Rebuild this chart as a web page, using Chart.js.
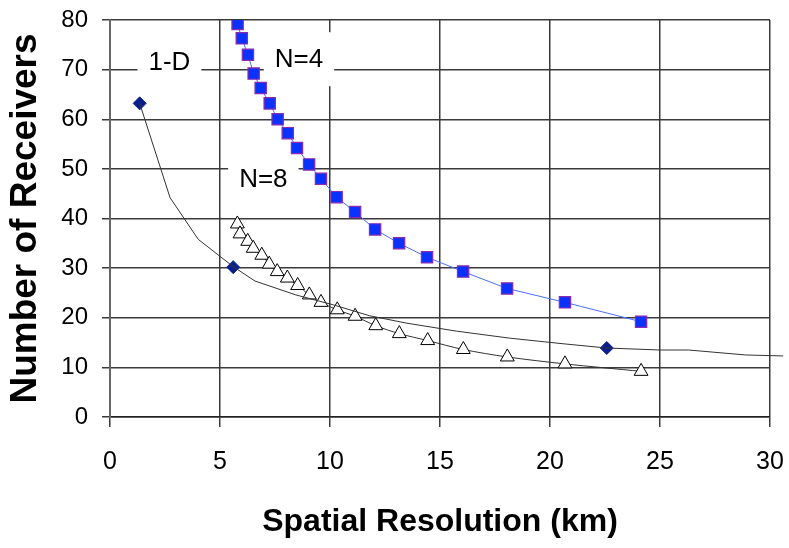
<!DOCTYPE html>
<html>
<head>
<meta charset="utf-8">
<script src="https://cdn.jsdelivr.net/npm/chart.js@4.4.1/dist/chart.umd.min.js"></script>
<style>
    html, body { margin: 0; padding: 0; background: #fff; }
    #wrap { width: 789px; height: 548px; }
</style>
</head>
<body>
<div id="wrap"><canvas id="receiversChart"></canvas></div>
<script>
// N=4 (squares)
const n4X = [5.80, 5.99, 6.27, 6.53, 6.85, 7.26, 7.62, 8.08, 8.50, 9.05, 9.59, 10.30, 11.14, 12.05, 13.14, 14.41, 16.05, 18.05, 20.68, 24.14];
const n4Y = [79.2, 76.3, 73.0, 69.2, 66.3, 63.2, 60.0, 57.2, 54.2, 50.9, 48.0, 44.3, 41.3, 37.8, 35.0, 32.2, 29.3, 25.9, 23.1, 19.2];

// N=8 (triangles)
const n8X = [5.79, 5.91, 6.26, 6.51, 6.90, 7.24, 7.60, 8.06, 8.53, 9.06, 9.59, 10.33, 11.14, 12.08, 13.15, 14.44, 16.06, 18.06, 20.68, 24.14];
const n8Y = [38.9, 36.9, 35.4, 34.0, 32.6, 30.8, 29.3, 28.0, 26.5, 24.6, 23.1, 21.6, 20.3, 18.4, 16.8, 15.4, 13.6, 12.1, 10.7, 9.2];

// 1-D (diamonds) and its fitted curve
const oneDX = [1.35, 5.60, 22.58];
const oneDY = [63.2, 30.2, 13.9];
const oneDCurveX = [1.35, 2.73, 4.01, 5.60, 6.59, 8.45, 10.15, 11.8, 13.5, 15.75, 18.15, 20.5, 22.58, 25.0, 26.3, 28.9, 30.6];
const oneDCurveY = [63.2, 44.2, 35.8, 30.3, 27.4, 24.6, 22.6, 20.4, 18.9, 17.3, 15.9, 14.8, 13.9, 13.5, 13.5, 12.5, 12.3];

// axis ticks
const xTicks = [0, 5, 10, 15, 20, 25, 30];
const yTicks = [0, 10, 20, 30, 40, 50, 60, 70, 80];

// in-plot labels (data coordinates)
const seriesLabels = [
    { text: '1-D', x: 2.7, y: 71.5 },
    { text: 'N=4', x: 8.59, y: 72.1 },
    { text: 'N=8', x: 6.97, y: 47.9 }
];

const FONT = "'Liberation Sans', Arial, sans-serif";

function toPoints(xs, ys) {
    return xs.map((x, i) => ({ x: x, y: ys[i] }));
}

// white boxes with text, drawn over the grid but under the data
const labelPlugin = {
    id: 'seriesLabels',
    beforeDatasetsDraw(chart) {
        const ctx = chart.ctx;
        const xs = chart.scales.x;
        const ys = chart.scales.y;
        ctx.save();
        ctx.font = '26px ' + FONT;
        ctx.textAlign = 'center';
        ctx.textBaseline = 'middle';
        seriesLabels.forEach(l => {
            const px = xs.getPixelForValue(l.x);
            const py = ys.getPixelForValue(l.y);
            const w = ctx.measureText(l.text).width + 22;
            ctx.fillStyle = '#ffffff';
            ctx.fillRect(px - w / 2, py - 27, w, 54);
            ctx.fillStyle = '#000000';
            ctx.fillText(l.text, px, py + 1);
        });
        ctx.restore();
    }
};

const ctx = document.getElementById('receiversChart').getContext('2d');

new Chart(ctx, {
    type: 'scatter',
    data: {
        datasets: [
            {
                label: '1-D fit',
                data: toPoints(oneDCurveX, oneDCurveY),
                showLine: true,
                borderColor: '#333333',
                borderWidth: 1,
                pointRadius: 0,
                clip: false
            },
            {
                label: 'N=8',
                data: toPoints(n8X, n8Y),
                showLine: true,
                tension: 0.3,
                borderColor: '#333333',
                borderWidth: 1,
                pointStyle: 'triangle',
                pointRadius: 8,
                pointBackgroundColor: '#ffffff',
                pointBorderColor: '#000000',
                pointBorderWidth: 1
            },
            {
                label: 'N=4',
                data: toPoints(n4X, n4Y),
                showLine: true,
                borderColor: '#4d6fff',
                borderWidth: 1,
                pointStyle: 'rect',
                pointRadius: 8,
                pointBackgroundColor: '#0a32ff',
                pointBorderColor: '#8a2bb0',
                pointBorderWidth: 1.2
            },
            {
                label: '1-D',
                data: toPoints(oneDX, oneDY),
                showLine: false,
                pointStyle: 'rectRot',
                pointRadius: 6.5,
                pointBackgroundColor: '#0b1f8c',
                pointBorderColor: '#0b1f8c',
                pointBorderWidth: 1
            }
        ]
    },
    options: {
        responsive: true,
        maintainAspectRatio: false,
        animation: false,
        layout: {
            padding: { top: 20, right: 19, left: 0, bottom: 0 }
        },
        plugins: {
            legend: { display: false },
            tooltip: { enabled: false }
        },
        scales: {
            x: {
                type: 'linear',
                min: 0,
                max: 30,
                afterBuildTicks: scale => {
                    scale.ticks = xTicks.map(v => ({ value: v }));
                },
                afterFit: scale => {
                    scale.height = 131;
                    // let layout padding decide the right edge, not the "30" label
                    scale.paddingLeft = 0;
                    scale.paddingRight = 0;
                },
                grid: {
                    color: '#3a3a3a',
                    lineWidth: 1.5,
                    tickLength: 10
                },
                border: { color: '#222222', width: 1.5 },
                ticks: {
                    color: '#000000',
                    padding: 20,
                    font: { family: FONT, size: 25 }
                },
                title: {
                    display: true,
                    text: 'Spatial Resolution (km)',
                    color: '#000000',
                    padding: { top: 0, bottom: 7 },
                    font: { family: FONT, size: 32, weight: 'bold' }
                }
            },
            y: {
                type: 'linear',
                min: 0,
                max: 80,
                afterBuildTicks: scale => {
                    scale.ticks = yTicks.map(v => ({ value: v }));
                },
                afterFit: scale => {
                    scale.width = 110;
                    scale.paddingTop = 0;
                    scale.paddingBottom = 0;
                },
                grid: {
                    color: '#3a3a3a',
                    lineWidth: 1.5,
                    tickLength: 8
                },
                border: { color: '#666666', width: 2 },
                ticks: {
                    color: '#000000',
                    padding: 14,
                    font: { family: FONT, size: 24 }
                },
                title: {
                    display: true,
                    text: 'Number of Receivers',
                    color: '#000000',
                    padding: { top: 4, bottom: 0 },
                    font: { family: FONT, size: 37, weight: 'bold' }
                }
            }
        }
    },
    plugins: [labelPlugin]
});
</script>
</body>
</html>
